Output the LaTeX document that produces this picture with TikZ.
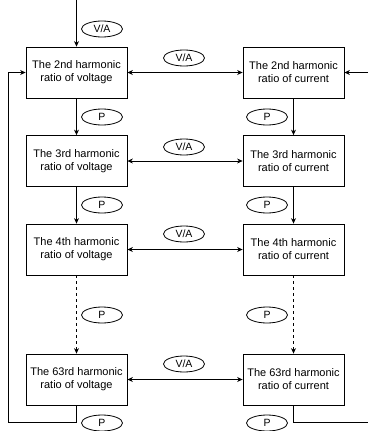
\documentclass[tikz,border=0pt]{standalone}
\usepackage{fontspec}
\setmainfont{Liberation Sans}
\usetikzlibrary{arrows.meta, shapes.geometric, positioning}

\begin{document}
\begin{tikzpicture}[x=1pt, y=-1pt, line width=0.8pt,
  box/.style={draw, minimum width=101pt, minimum height=51pt, align=center,
    font=\fontsize{11}{13}\selectfont},
  tag/.style={draw, ellipse, minimum width=41pt, minimum height=16pt,
    inner sep=0pt, font=\fontsize{10.5}{12}\selectfont},
  arr/.style={-{Stealth[length=5.5pt, width=5pt]}},
  dbl/.style={{Stealth[length=5.5pt, width=5pt]}-{Stealth[length=5.5pt, width=5pt]}}]
  \useasboundingbox (0,0) rectangle (368,431);
  \clip (0,0) rectangle (368,431);

  % voltage column
  \node[box] (v2)  at (76.5,72.5)  {The 2nd harmonic\\ratio of voltage};
  \node[box] (v3)  at (76.5,161)   {The 3rd harmonic\\ratio of voltage};
  \node[box] (v4)  at (76.5,249.5) {The 4th harmonic\\ratio of voltage};
  \node[box] (v63) at (76.5,379.5) {The 63rd harmonic\\ratio of voltage};

  % current column
  \node[box] (c2)  at (293.5,72.5)  {The 2nd harmonic\\ratio of current};
  \node[box] (c3)  at (293.5,161)   {The 3rd harmonic\\ratio of current};
  \node[box] (c4)  at (293.5,249.5) {The 4th harmonic\\ratio of current};
  \node[box] (c63) at (293.5,379.5) {The 63rd harmonic\\ratio of current};

  % free ends of the outer connectors
  \coordinate (vin) at (76.5,0);
  \coordinate (cin) at (368,72.5);
  \coordinate (vloop) at (8,422);
  \coordinate (cloop) at (368,422);

  % input and return paths
  \draw[arr] (vin) -- (v2);
  \node[tag] (tin) at (102,29) {V/A};
  \draw[arr] (cin) -- (c2);
  \draw[arr] (v63) -- (v63 |- vloop) -- (vloop) |- (v2);
  \draw (c63) -- (c63 |- cloop) -- (cloop);

  % voltage <-> current
  \draw[dbl] (v2) -- (c2);
  \draw[dbl] (v3) -- (c3);
  \draw[dbl] (v4) -- (c4);
  \draw[dbl] (v63) -- (c63);
  \node[tag] (h2)  at (184,58)  {V/A};
  \node[tag] (h3)  at (184,147) {V/A};
  \node[tag] (h4)  at (184,234) {V/A};
  \node[tag] (h63) at (184,364) {V/A};

  % next harmonic, downwards
  \draw[arr] (v2) -- (v3);
  \draw[arr] (v3) -- (v4);
  \draw[arr, dashed] (v4) -- (v63);
  \draw[arr] (c2) -- (c3);
  \draw[arr] (c3) -- (c4);
  \draw[arr, dashed] (c4) -- (c63);
  \node[tag] (pv2)  at (102,117) {P};
  \node[tag] (pv3)  at (102,205) {P};
  \node[tag] (pv4)  at (102,315) {P};
  \node[tag] (pv63) at (102,423) {P};
  \node[tag] (pc2)  at (267,117) {P};
  \node[tag] (pc3)  at (267,205) {P};
  \node[tag] (pc4)  at (267,315) {P};
  \node[tag] (pc63) at (267,423) {P};
\end{tikzpicture}
\end{document}
